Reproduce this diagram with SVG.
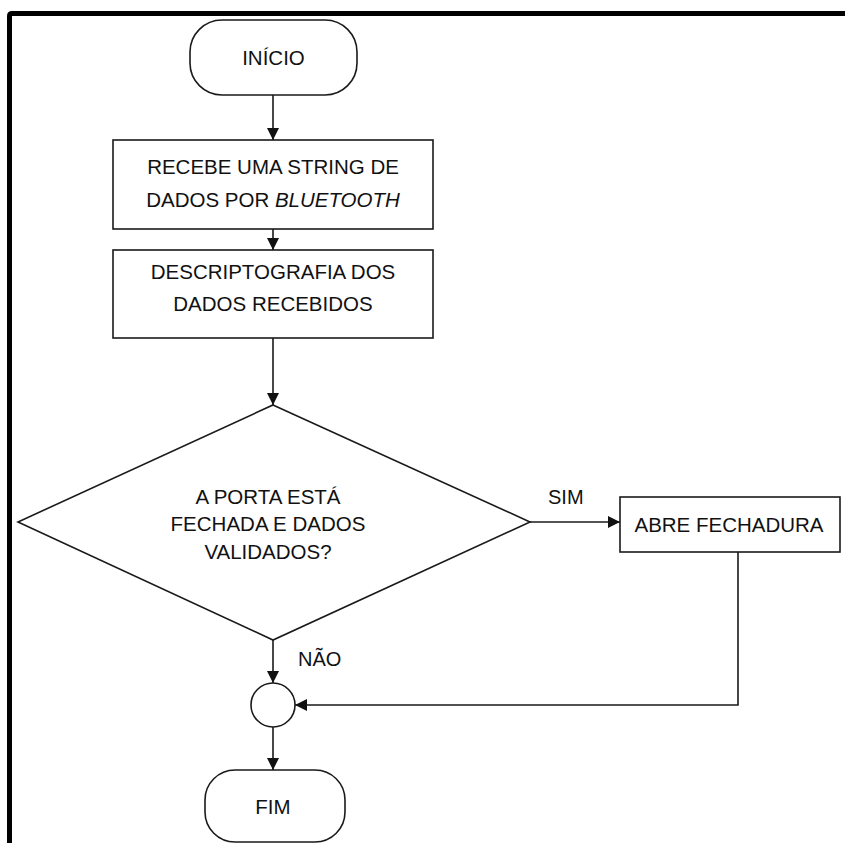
<svg xmlns="http://www.w3.org/2000/svg" width="845" height="843" viewBox="0 0 845 843">
  <style>
    .shape { fill: #ffffff; stroke: #1a1a1a; stroke-width: 1.6; }
    .line { fill: none; stroke: #1a1a1a; stroke-width: 1.6; }
    .label { font-family: "Liberation Sans", Arial, sans-serif; font-size: 20.5px; fill: #111; text-anchor: middle; }
    .edge-label { font-family: "Liberation Sans", Arial, sans-serif; font-size: 20px; fill: #111; }
  </style>
  <defs>
    <marker id="arrow" viewBox="0 0 12 12" refX="12" refY="6" markerWidth="12" markerHeight="12" markerUnits="userSpaceOnUse" orient="auto">
      <path d="M0,0 L12,6 L0,12 Z" fill="#111"/>
    </marker>
  </defs>

  <rect width="845" height="843" fill="#ffffff"/>
  <!-- outer frame -->
  <path d="M9.5,843 V16 Q9.5,13.5 12,13.5 H845" fill="none" stroke="#000" stroke-width="5"/>

  <g id="connectors">
    <line class="line" x1="273" y1="95" x2="273" y2="140" marker-end="url(#arrow)"/>
    <line class="line" x1="273" y1="229" x2="273" y2="250" marker-end="url(#arrow)"/>
    <line class="line" x1="273" y1="338" x2="273" y2="405" marker-end="url(#arrow)"/>
    <line class="line" x1="530" y1="522" x2="620" y2="522" marker-end="url(#arrow)"/>
    <line class="line" x1="273" y1="640" x2="273" y2="683" marker-end="url(#arrow)"/>
    <polyline class="line" points="738,552 738,705 295,705" marker-end="url(#arrow)"/>
    <line class="line" x1="273" y1="727" x2="273" y2="770" marker-end="url(#arrow)"/>
    <text class="edge-label" x="548" y="504">SIM</text>
    <text class="edge-label" x="298" y="666">NÃO</text>
  </g>

  <g id="inicio">
    <rect class="shape" x="190" y="20" width="167" height="75" rx="32" ry="32"/>
    <text class="label" x="273.5" y="65">INÍCIO</text>
  </g>

  <g id="recebe">
    <rect class="shape" x="113" y="140" width="320" height="89"/>
    <text class="label" x="273" y="174">RECEBE UMA STRING DE</text>
    <text class="label" x="273" y="207">DADOS POR <tspan font-style="italic">BLUETOOTH</tspan></text>
  </g>

  <g id="descriptografia">
    <rect class="shape" x="113" y="250" width="320" height="88"/>
    <text class="label" x="273" y="279">DESCRIPTOGRAFIA DOS</text>
    <text class="label" x="273" y="311">DADOS RECEBIDOS</text>
  </g>

  <g id="decisao">
    <polygon class="shape" points="273,405 530,522 273,640 18,522"/>
    <text class="label" x="268" y="504" font-size="20px">A PORTA ESTÁ</text>
    <text class="label" x="268" y="531" font-size="20px">FECHADA E DADOS</text>
    <text class="label" x="268" y="559" font-size="20px">VALIDADOS?</text>
  </g>

  <g id="abre">
    <rect class="shape" x="620" y="497" width="220" height="55"/>
    <text class="label" x="729" y="532">ABRE FECHADURA</text>
  </g>

  <g id="juncao">
    <circle class="shape" cx="273" cy="705" r="22"/>
  </g>

  <g id="fim">
    <rect class="shape" x="205" y="770" width="140" height="72" rx="30" ry="30"/>
    <text class="label" x="273" y="814">FIM</text>
  </g>
</svg>
